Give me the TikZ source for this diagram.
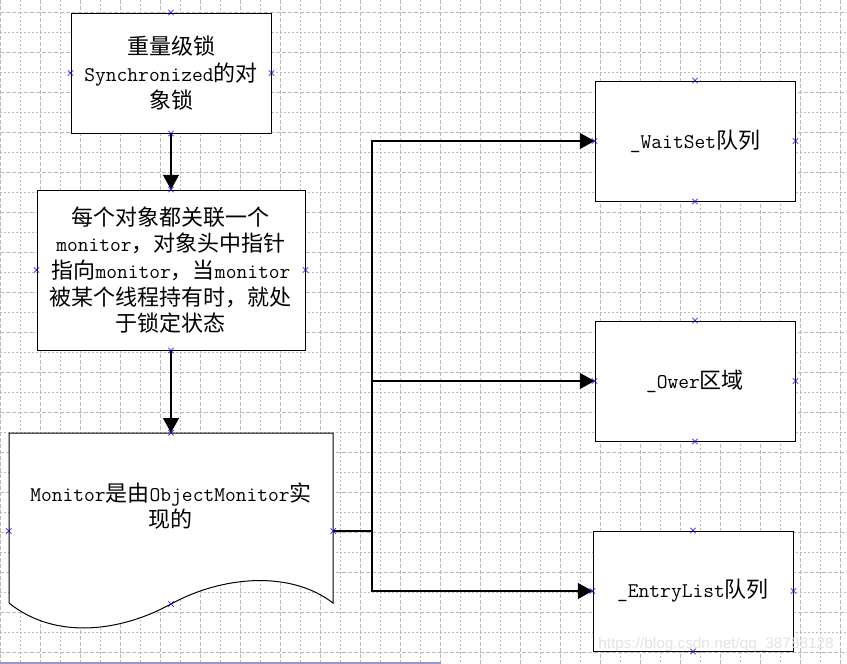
\documentclass[tikz,border=0pt]{standalone}
\usepackage{fontspec}
\setmainfont{Noto Sans CJK SC}
\setmonofont[Scale=0.95]{Latin Modern Mono}
\newcommand\lat{\ttfamily}
\newfontfamily\wmfont{Liberation Sans}
\usetikzlibrary{arrows.meta,shapes.misc,calc}
\definecolor{gridc}{RGB}{185,185,185}
\definecolor{mkblue}{RGB}{0,0,235}
\definecolor{botline}{RGB}{150,150,200}
\tikzset{
  box/.style={draw=black, line width=0.75pt, fill=white, inner sep=0pt,
    minimum width=150pt, minimum height=90pt, align=center,
    font=\fontsize{16.5pt}{20pt}\selectfont},
  txt/.style={inner sep=0pt, align=center, font=\fontsize{16.5pt}{20pt}\selectfont},
  arr/.style={line width=0.8pt, -{Triangle[length=11pt,width=12pt]}},
  conn/.style={line width=0.8pt},
  xmk/.style={cross out, draw=mkblue, minimum size=3.6pt, inner sep=0pt, line width=0.5pt},
  gdot/.style={draw=gridc, line width=0.75pt, dash pattern=on 1.5pt off 1.5pt},
  gdash/.style={draw=gridc, line width=0.75pt, dash pattern=on 3pt off 1.5pt},
}
\begin{document}
\begin{tikzpicture}[x=0.75pt,y=-0.75pt]
\useasboundingbox (0,0) rectangle (847,664);
\fill[white] (0,0) rectangle (847,664);
% grid
\foreach \k in {0,...,42}{
  \pgfmathtruncatemacro{\r}{mod(\k,2)}
  \ifnum\r=0 \draw[gdash] (20*\k+0.7,0) -- (20*\k+0.7,664);
  \else \draw[gdot] (20*\k+0.7,0) -- (20*\k+0.7,664); \fi
}
\foreach \k in {0,...,32}{
  \pgfmathtruncatemacro{\r}{mod(\k,2)}
  \ifnum\r=0 \draw[gdash] (0,12+20*\k) -- (847,12+20*\k);
  \else \draw[gdot] (0,12+20*\k) -- (847,12+20*\k); \fi
}
\draw[botline, line width=1.5pt] (0,662.5) -- (441,662.5);

% boxes
\node[box] (b1) at (171,73) {重量级锁\\{\lat Synchronized}的对\\象锁};
\node[box, minimum width=201pt, minimum height=120pt] (b2) at (171,270)
  {每个对象都关联一个\\{\lat monitor}，对象头中指针\\指向{\lat monitor}，当{\lat monitor}\\被某个线程持有时，就处\\于锁定状态};

% document shape
\node[inner sep=0pt, minimum width=243pt, minimum height=147pt] (doc) at (171,531) {};
\coordinate (docb) at (171,604);
\filldraw[fill=white, draw=black, line width=0.75pt]
  (9,603) -- (9,433) -- (333,433) -- (333,603)
  .. controls (290,570) and (222,576) .. (171,604)
  .. controls (120,632) and (55,640) .. (9,603) -- cycle;
\node[txt] (doct) at (171,506) {{\lat Monitor}是由{\lat ObjectMonitor}实\\现的};

\node[box] (w) at (695,141) {{\lat \_WaitSet}队列};
\node[box] (o) at (695,381) {{\lat \_Ower}区域};
\node[box] (e) at (693,591) {{\lat \_EntryList}队列};

% connectors
\draw[arr] (b1.south) -- (b2.north);
\draw[arr] (b2.south) -- (doc.north);
\coordinate (j) at (372,531);
\draw[conn] (doc.east) -- (j);
\draw[arr] (j) |- (w.west);
\draw[arr] (j) |- (o.west);
\draw[arr] (j) |- (e.west);

% connection markers
\foreach \p in {b1.north,b1.south,b1.east,b1.west,
                b2.north,b2.south,b2.east,b2.west,
                doc.north,doc.east,doc.west,docb,
                w.north,w.south,w.east,w.west,
                o.north,o.south,o.east,o.west,
                e.north,e.south,e.east,e.west}
  \node[xmk] at (\p) {};

% watermark
\node[inner sep=0pt, text=gray!22, font=\wmfont\fontsize{11.5pt}{12pt}\selectfont] (wm) at (716,645) {https://blog.csdn.net/qq\_38788128};
\end{tikzpicture}
\end{document}
